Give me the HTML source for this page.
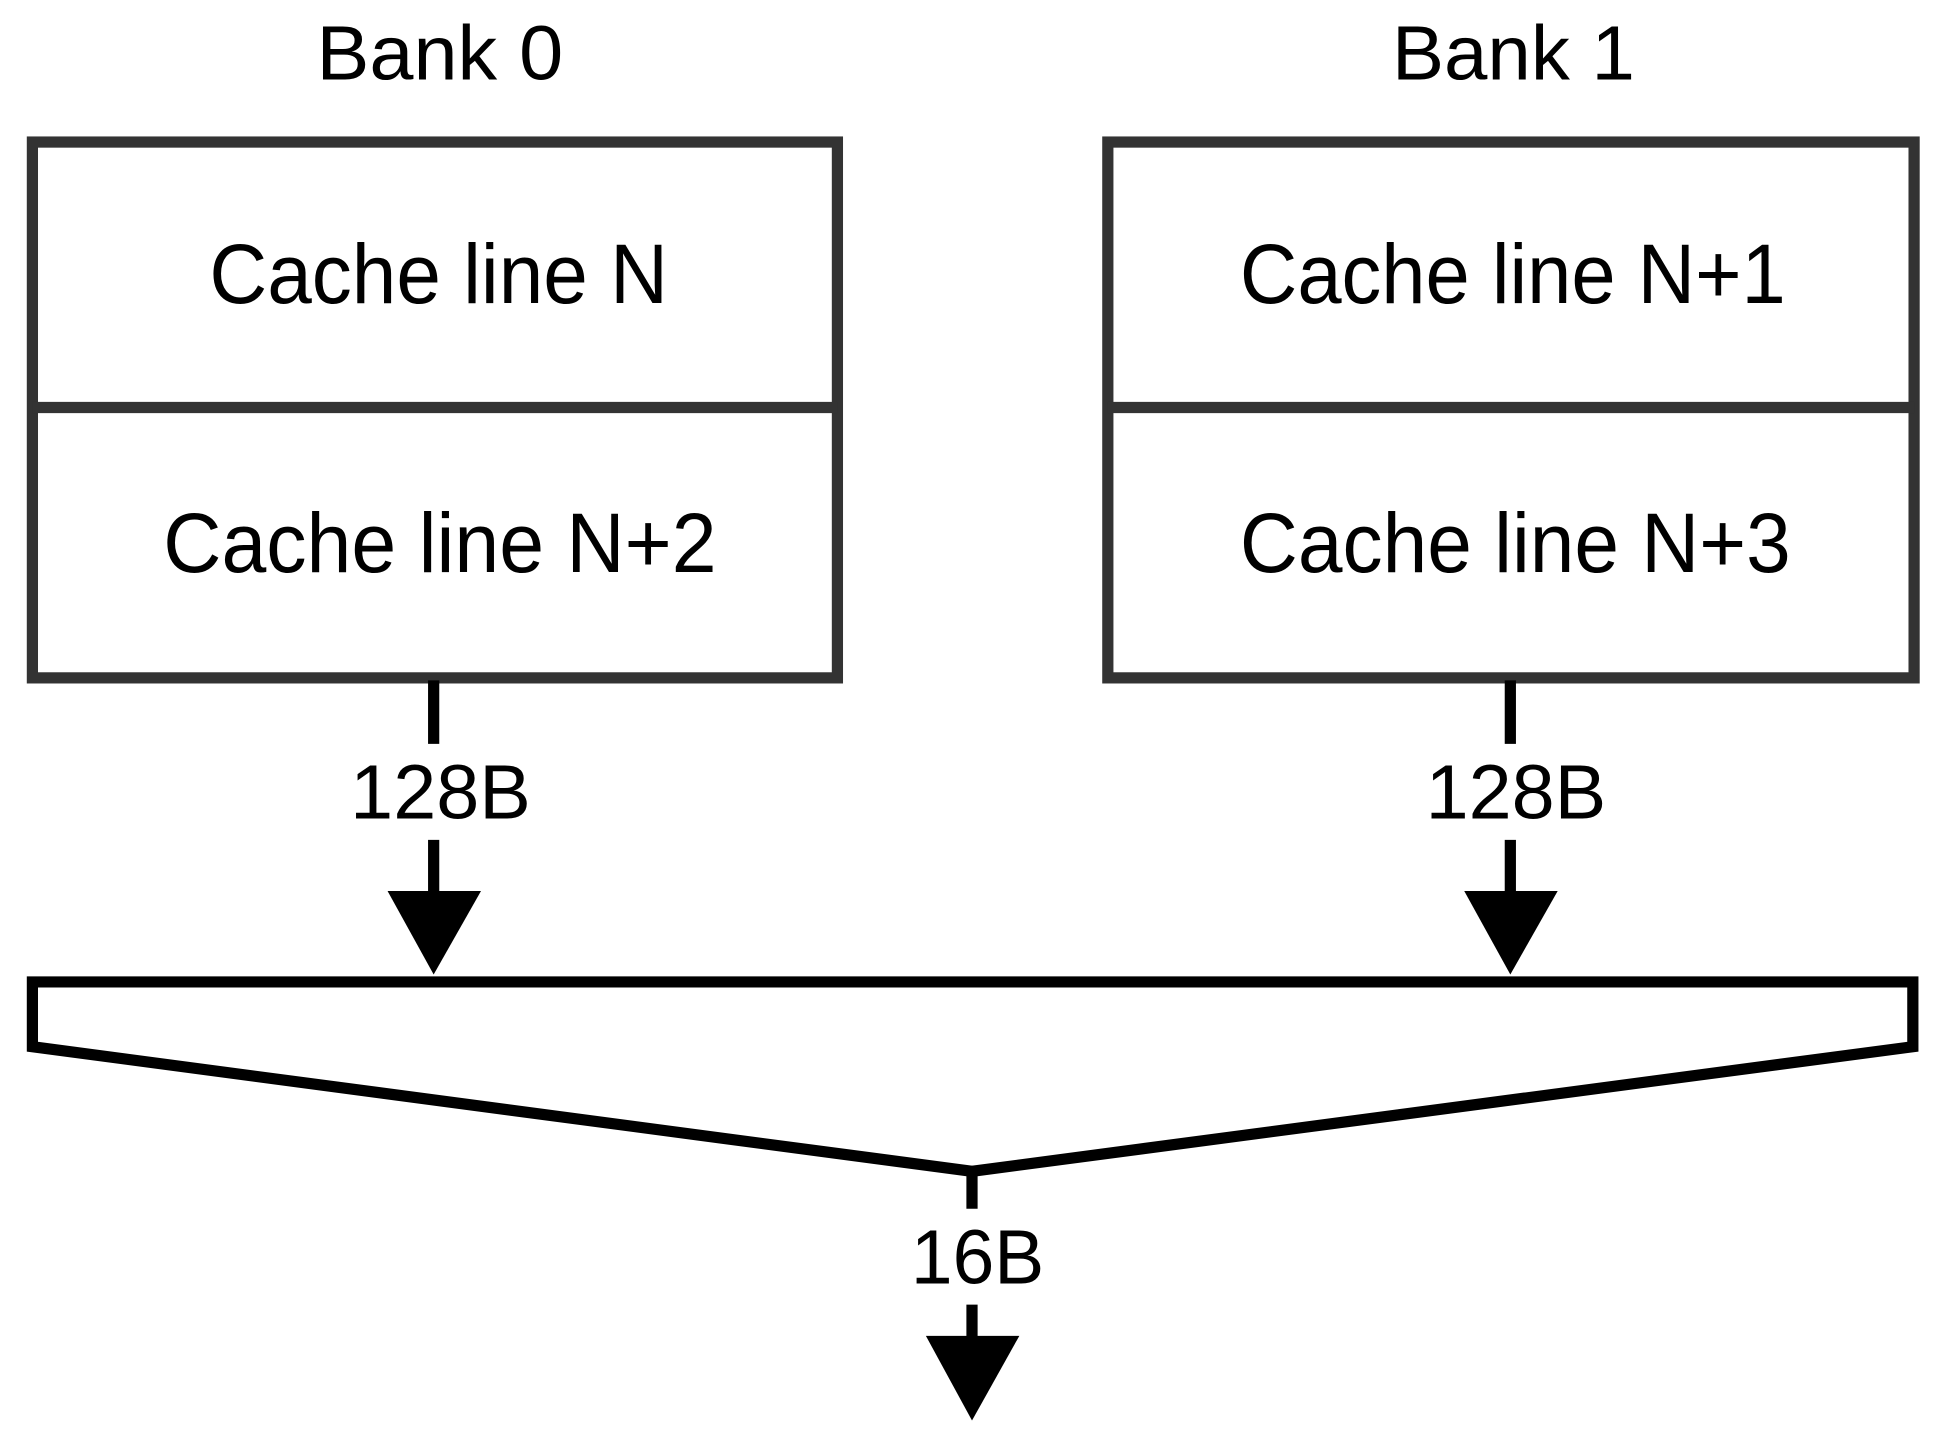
<!DOCTYPE html>
<html><head><meta charset="utf-8"><style>
html,body{margin:0;padding:0;background:#fff;}
svg{display:block;}
text{font-family:"Liberation Sans",Arial,sans-serif;fill:#000;}
</style></head><body>
<svg width="1944" height="1438" viewBox="0 0 1560 1154" preserveAspectRatio="none" xmlns="http://www.w3.org/2000/svg">
<rect width="1560" height="1154" fill="#fff"/>
<text x="254" y="64" font-size="62" textLength="198" lengthAdjust="spacingAndGlyphs">Bank 0</text>
<text x="1117" y="64" font-size="62" textLength="195" lengthAdjust="spacingAndGlyphs">Bank 1</text>
<g fill="#fff" stroke="#333" stroke-width="9">
<rect x="26" y="114" width="646" height="430"/>
<line x1="26" y1="327" x2="672" y2="327"/>
<rect x="889" y="114" width="647" height="430"/>
<line x1="889" y1="327" x2="1536" y2="327"/>
</g>
<g font-size="68">
<text x="168" y="243" textLength="368" lengthAdjust="spacingAndGlyphs">Cache line N</text>
<text x="131" y="459" textLength="444" lengthAdjust="spacingAndGlyphs">Cache line N+2</text>
<text x="995" y="243" textLength="438" lengthAdjust="spacingAndGlyphs">Cache line N+1</text>
<text x="995" y="459" textLength="442" lengthAdjust="spacingAndGlyphs">Cache line N+3</text>
</g>
<g stroke="#000" stroke-width="9">
<line x1="348" y1="546" x2="348" y2="597"/>
<line x1="348" y1="674" x2="348" y2="720"/>
<line x1="1212" y1="546" x2="1212" y2="597"/>
<line x1="1212" y1="674" x2="1212" y2="720"/>
<line x1="780" y1="942" x2="780" y2="970"/>
<line x1="780" y1="1047" x2="780" y2="1076"/>
</g>
<polygon points="311,715 386,715 348,782" fill="#000"/>
<polygon points="1175,715 1250,715 1212,782" fill="#000"/>
<polygon points="743,1072 818,1072 780,1140" fill="#000"/>
<polygon points="26,788 1535,788 1535,840 780,940 26,840" fill="#fff" stroke="#000" stroke-width="9" stroke-linejoin="miter"/>
<g font-size="62">
<text x="281" y="657" textLength="145" lengthAdjust="spacingAndGlyphs">128B</text>
<text x="1144" y="657" textLength="145" lengthAdjust="spacingAndGlyphs">128B</text>
<text x="731" y="1030" textLength="107" lengthAdjust="spacingAndGlyphs">16B</text>
</g>
</svg>
</body></html>
